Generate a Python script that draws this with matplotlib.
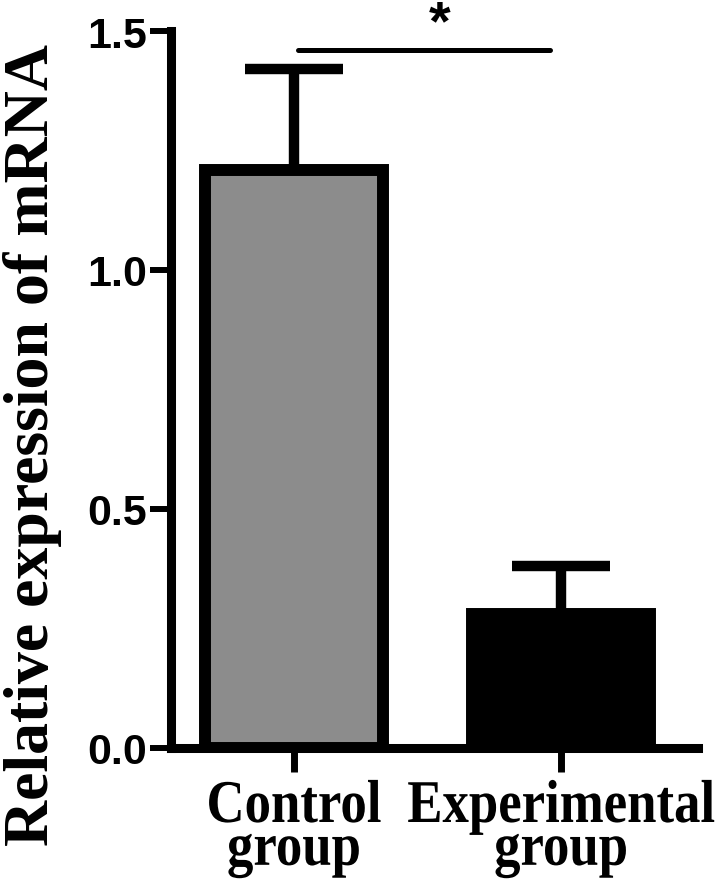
import matplotlib
matplotlib.use("Agg")
import matplotlib.pyplot as plt
from matplotlib.patheffects import AbstractPathEffect
from matplotlib.transforms import Affine2D

categories = ["Control\ngroup", "Experimental\ngroup"]
values = [1.21, 0.28]
errors = [0.21, 0.10]
bar_colors = ["#8c8c8c", "#000000"]
yticks = [0.0, 0.5, 1.0, 1.5]
ytick_labels = ["0.0", "0.5", "1.0", "1.5"]
ylabel = "Relative expression of mRNA"
sig_text = "*"
sig_y = 1.46


class Stretch(AbstractPathEffect):
    """Scale glyphs in their own coordinates (about the baseline)."""
    def __init__(self, sx=1.0, sy=1.0):
        super().__init__()
        self._t = Affine2D().scale(sx, sy)

    def draw_path(self, renderer, gc, tpath, affine, rgbFace=None):
        renderer.draw_path(gc, tpath, self._t + affine, rgbFace)


W, H = 724, 887
fig = plt.figure(figsize=(W / 100, H / 100), dpi=100)
ax = fig.add_axes([171 / W, 138.5 / H, (698 - 171) / W, (855 - 138.5) / H])

x = list(range(len(categories)))
ax.errorbar(x, values, yerr=[[0] * len(values), errors], fmt="none",
            ecolor="black", elinewidth=7.5, capsize=35, capthick=7.5, zorder=1)
ax.bar(x, values, width=0.667, color=bar_colors, edgecolor="black",
       linewidth=8.6, zorder=2)

ax.set_xlim(-0.46, 1.513)
ax.set_ylim(0, 1.5)

for s in ["top", "right"]:
    ax.spines[s].set_visible(False)
for s in ["left", "bottom"]:
    ax.spines[s].set_linewidth(6.5)
    ax.spines[s].set_capstyle("projecting")

ax.set_yticks(yticks)
ax.set_yticklabels(ytick_labels, fontfamily="Liberation Sans", fontweight="bold", fontsize=31)
ax.tick_params(axis="y", length=15, width=4.3, pad=2)
ax.set_xticks(x)
ax.set_xticklabels(categories, fontfamily="Liberation Serif", fontweight="bold",
                   fontsize=38, linespacing=0.86)
ax.tick_params(axis="x", length=17, width=5, pad=10)
for lbl in ax.get_xticklabels():
    lbl.set_path_effects([Stretch(1.0, 1.15)])

ax.plot([0.015, 0.96], [sig_y, sig_y], color="black", lw=3.6, clip_on=False,
        solid_capstyle="round")
ax.text(0.547, 1.515, sig_text, ha="center", va="center", fontsize=40,
        fontweight="bold", fontfamily="Liberation Sans", clip_on=False)

fig.text(33 / W, 1 - 445 / H, ylabel, rotation=90, ha="center", va="center",
         fontfamily="Liberation Serif", fontweight="bold", fontsize=46)

fig.savefig("out.png", dpi=100)
